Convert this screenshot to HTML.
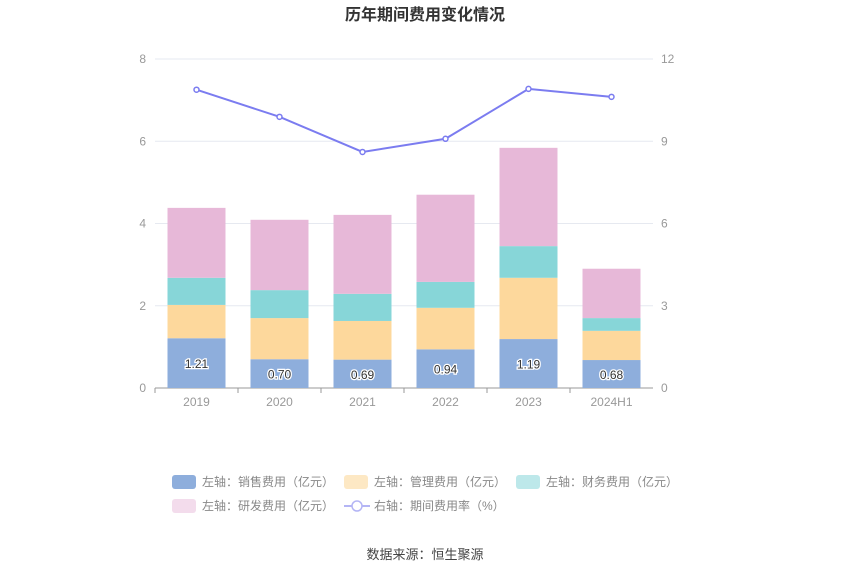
<!DOCTYPE html>
<html><head><meta charset="utf-8"><style>
html,body{margin:0;padding:0;background:#fff;width:850px;height:575px;overflow:hidden;font-family:"Liberation Sans","Noto Sans CJK SC",sans-serif;}
</style></head><body>
<svg id="chart" width="850" height="575" xmlns="http://www.w3.org/2000/svg" font-family="Liberation Sans, Noto Sans CJK SC, sans-serif"></svg>
<script>
const categories=["2019","2020","2021","2022","2023","2024H1"];
const sales=[1.21,0.70,0.69,0.94,1.19,0.68];
const mgmt=[0.81,1.00,0.94,1.01,1.49,0.71];
const fin=[0.66,0.68,0.66,0.63,0.77,0.31];
const rd=[1.70,1.71,1.92,2.12,2.39,1.20];
const rate=[10.88,9.89,8.61,9.09,10.91,10.62];
const leftTicks=[0,2,4,6,8];
const rightTicks=[0,3,6,9,12];

const svg=document.getElementById('chart');
const NS='http://www.w3.org/2000/svg';
function mk(tag,attrs,parent){const e=document.createElementNS(NS,tag);for(const k in attrs)e.setAttribute(k,attrs[k]);(parent||svg).appendChild(e);return e;}
const x0=155,x1=653,yB=388,yT=59;
const yL=v=>yB-(v/8)*(yB-yT);
const yR=v=>yB-(v/12)*(yB-yT);
const band=(x1-x0)/categories.length;
const xC=i=>x0+band*(i+0.5);

let t=mk('text',{x:425,y:20,'text-anchor':'middle','font-size':16,'font-weight':'bold',fill:'#333'});


t.textContent='历年期间费用变化情况';

leftTicks.forEach((v,i)=>{
  const g=mk('line',{x1:x0,x2:x1,y1:yL(v),y2:yL(v),stroke:v===0?'#999':'#e6e9f0','stroke-width':1});
  
  
  const l=mk('text',{x:146,y:yL(v)+4,'text-anchor':'end','font-size':12,fill:'#999'});
  
  
  l.textContent=v;
  const r=mk('text',{x:661,y:yR(rightTicks[i])+4,'text-anchor':'start','font-size':12,fill:'#999'});
  
  
  r.textContent=rightTicks[i];
});

const series=[[sales,'#8eaedc','sales'],[mgmt,'#fdd89c','mgmt'],[fin,'#87d6d8','finance'],[rd,'#e7b8d8','rd']];
const bw=58;
categories.forEach((c,i)=>{
  let acc=0;
  series.forEach(([arr,col,nm])=>{
    const top=yL(acc+arr[i]),bot=yL(acc);
    const r=mk('rect',{x:xC(i)-bw/2,y:top,width:bw,height:bot-top,fill:col});
    
    
    acc+=arr[i];
  });
  const lb=mk('text',{x:xC(i),y:yL(sales[i]/2)+5,'text-anchor':'middle','font-size':12,fill:'#333',stroke:'#fff','stroke-width':2.5,'paint-order':'stroke'});
  
  
  lb.textContent=sales[i].toFixed(2);
  const tk=mk('line',{x1:x0+band*i,x2:x0+band*i,y1:yB,y2:yB+5,stroke:'#999'});
  
  
  const xl=mk('text',{x:xC(i),y:yB+18,'text-anchor':'middle','font-size':12,fill:'#999'});
  
  
  xl.textContent=c;
});
const pl=mk('polyline',{points:rate.map((v,i)=>xC(i)+','+yR(v)).join(' '),fill:'none',stroke:'#7b7cf0','stroke-width':2});


rate.forEach((v,i)=>{
  const p=mk('circle',{cx:xC(i),cy:yR(v),r:2.5,fill:'#fff',stroke:'#7b7cf0','stroke-width':1.5});
  
  
});

const legend=[
 [172,482,'#8eaedc','左轴：销售费用（亿元）','rect'],
 [344,482,'#fde8c4','左轴：管理费用（亿元）','rect'],
 [516,482,'#bde8ea','左轴：财务费用（亿元）','rect'],
 [172,506,'#f3dcec','左轴：研发费用（亿元）','rect'],
 [344,506,'#7b7cf0','右轴：期间费用率（%）','line']
];
legend.forEach(([x,y,col,txt,kind])=>{
  const g=mk('g',{});
  
  
  if(kind==='rect'){mk('rect',{x:x,y:y-7,width:24,height:14,rx:3,fill:col},g);}
  else{mk('line',{x1:x,x2:x+26,y1:y,y2:y,stroke:'#b4b5f5','stroke-width':2},g);mk('circle',{cx:x+13,cy:y,r:5,fill:'#fff',stroke:'#b4b5f5','stroke-width':1.5},g);}
  const tt=mk('text',{x:x+30,y:y+4,'font-size':12,fill:'#888'},g);
  tt.textContent=txt;
});
const src=mk('text',{x:425,y:559,'text-anchor':'middle','font-size':13,fill:'#444'});


src.textContent='数据来源：恒生聚源';
</script>
</body></html>
